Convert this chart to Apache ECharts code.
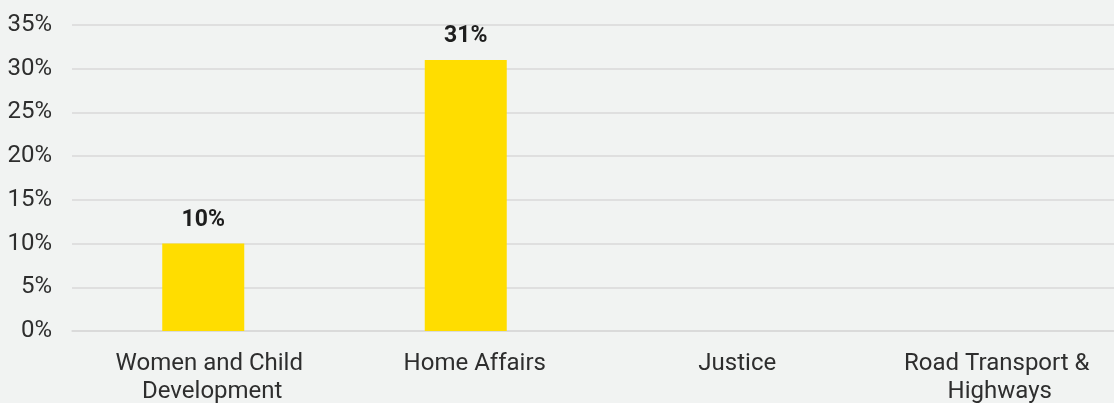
<!DOCTYPE html>
<html>
<head>
<meta charset="utf-8">
<script src="https://cdn.jsdelivr.net/npm/echarts@6/dist/echarts.min.js"></script>
<style>
html,body{margin:0;padding:0;background:#f1f3f2;}
#c{width:1114px;height:403px;}
</style>
</head>
<body>
<div id="c"></div>
<script>
const categories = ['Women and Child Development', 'Home Affairs', 'Justice', 'Road Transport & Highways'];
const values = [10, 31, 0, 0];
const yTicks = [0, 5, 10, 15, 20, 25, 30, 35];

const chart = echarts.init(document.getElementById('c'));
chart.setOption({
  backgroundColor: '#f1f3f2',
  textStyle: { fontFamily: 'Roboto' },
  grid: { left: 72, top: 25, width: 1050, height: 306, containLabel: false, outerBoundsMode: 'none' },
  xAxis: {
    type: 'category',
    data: categories,
    axisLine: { show: true, lineStyle: { color: '#d9d9d9', width: 1.5 } },
    axisTick: { show: false },
    axisLabel: {
      color: '#2e2e2e', fontSize: 24, fontFamily: 'Roboto',
      margin: 19, lineHeight: 28, width: 215, overflow: 'break', interval: 0,
      padding: [0, 0, 0, 18]
    }
  },
  yAxis: {
    type: 'value',
    min: yTicks[0], max: yTicks[yTicks.length - 1], interval: 5,
    axisLine: { show: false },
    axisTick: { show: false },
    splitLine: { lineStyle: { color: '#d9d9d9', width: 1.5 } },
    axisLabel: { color: '#2e2e2e', fontSize: 24, fontFamily: 'Roboto', margin: 20, formatter: v => v + '%' }
  },
  series: [{
    type: 'bar',
    data: values,
    barWidth: 82,
    itemStyle: { color: '#ffdd00' },
    label: {
      show: true, position: 'top', distance: 12,
      color: '#1e1e1e', fontSize: 23, fontWeight: 'bold', fontFamily: 'Roboto',
      formatter: p => p.value ? p.value + '%' : ''
    }
  }]
});
</script>
</body>
</html>
